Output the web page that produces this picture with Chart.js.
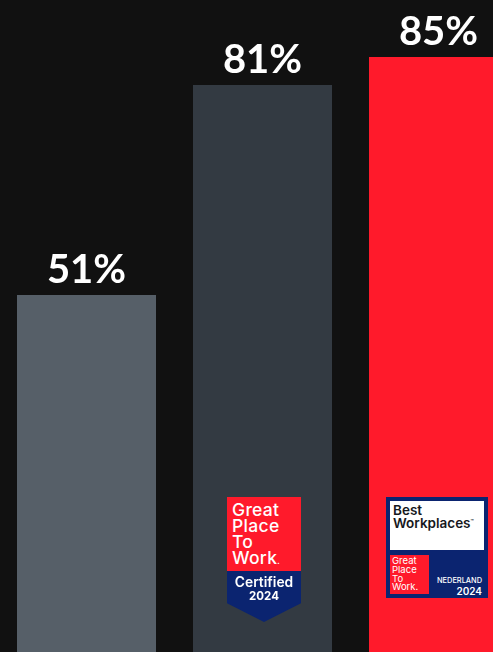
<!DOCTYPE html>
<html>
<head>
<meta charset="utf-8">
<script src="https://cdn.jsdelivr.net/npm/chart.js@4"></script>
<style>
  html, body { margin: 0; padding: 0; width: 493px; height: 652px; overflow: hidden; background: #111111; }
  #chart { position: absolute; left: -2px; top: 0; }
  .abs { position: absolute; }
  .t { position: absolute; white-space: nowrap; font-family: Inter, sans-serif; color: #fff; line-height: 1; }
</style>
</head>
<body>
<canvas id="chart" width="540" height="652"></canvas>

<!-- Great Place To Work certified badge -->
<div class="abs" style="left:227px;top:497px;width:74px;height:74px;background:#ff1a2b"></div>
<div class="abs" style="left:227px;top:571px;width:74px;height:51px;background:#0b2470;clip-path:polygon(0 0,100% 0,100% 63%,50% 100%,0 63%)"></div>
<div class="t" style="left:232px;top:502px;font-size:17.5px;font-weight:500;line-height:16px;letter-spacing:.3px">Great<br>Place<br>To<br>Work<span style="font-size:8px">.</span></div>
<div class="t" style="left:227px;width:74px;top:576px;font-size:13.8px;font-weight:600;text-align:center">Certified</div>
<div class="t" style="left:227px;width:74px;top:591px;font-size:11.5px;font-weight:700;text-align:center">2024</div>

<!-- Best Workplaces badge -->
<div class="abs" style="left:386px;top:497px;width:102px;height:101px;background:#0b2470"></div>
<div class="abs" style="left:390px;top:501px;width:94px;height:49px;background:#fff"></div>
<div class="abs" style="left:390px;top:555px;width:39px;height:39px;background:#ff1a2b"></div>
<div class="t" style="left:393px;top:504px;font-size:13.5px;font-weight:600;line-height:12.5px;color:#16181d">Best<br>Workplaces<sup style="font-size:5px;line-height:0">™</sup></div>
<div class="t" style="left:392px;top:557px;font-size:9.5px;font-weight:400;line-height:8.8px">Great<br>Place<br>To<br>Work.</div>
<div class="t" style="right:11px;top:577px;font-size:7.4px;font-weight:500">NEDERLAND</div>
<div class="t" style="right:11px;top:586px;font-size:10px;font-weight:600">2024</div>

<script>
const categories = ['A', 'B', 'C'];
const values = [51, 81, 85];
const valueLabels = ['51%', '81%', '85%'];
const barColors = ['#565f68', '#333a42', '#ff1a2b'];

// draws the percentages above each bar
const topLabels = {
  id: 'topLabels',
  afterDatasetsDraw(chart) {
    const ctx = chart.ctx;
    const meta = chart.getDatasetMeta(0);
    ctx.save();
    ctx.fillStyle = '#ffffff';
    ctx.font = 'bold 40px Lato, sans-serif';
    ctx.textAlign = 'center';
    ctx.textBaseline = 'alphabetic';
    meta.data.forEach((bar, i) => {
      ctx.fillText(valueLabels[i], bar.x, bar.y - 12.5);
    });
    ctx.restore();
  }
};

new Chart(document.getElementById('chart'), {
  type: 'bar',
  data: {
    labels: categories,
    datasets: [{
      data: values,
      backgroundColor: barColors,
      borderWidth: 0,
      categoryPercentage: 1,
      barPercentage: 139 / 176
    }]
  },
  options: {
    responsive: false,
    animation: false,
    layout: { padding: { left: 0.5, right: 11.5, top: 0, bottom: 0 } },
    plugins: { legend: { display: false }, tooltip: { enabled: false } },
    scales: {
      x: { display: false },
      y: { display: false, min: 0, max: 652 / 7 }
    }
  },
  plugins: [topLabels]
});
</script>
</body>
</html>
